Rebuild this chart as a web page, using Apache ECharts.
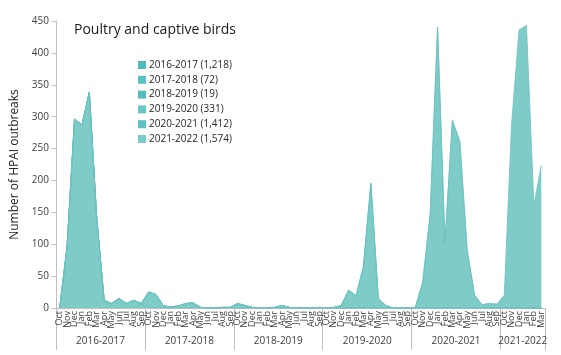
<!DOCTYPE html>
<html><head><meta charset="utf-8">
<script src="https://cdn.jsdelivr.net/npm/echarts@6/dist/echarts.min.js"></script>
<style>html,body{margin:0;padding:0;background:#fff}#c{width:561px;height:355px}</style>
</head><body><div id="c"></div>
<script>
var months = ['Oct','Nov','Dec','Jan','Feb','Mar','Apr','May','Jun','Jul','Aug','Sep'];
var seasons = ['2016-2017','2017-2018','2018-2019','2019-2020','2020-2021','2021-2022'];
var seasonTotals = ['1,218','72','19','331','1,412','1,574'];
var s1617 = [0, 97, 296, 287, 338, 140, 12, 7, 15, 7, 12, 7];
var s1718 = [25, 21, 3, 2, 3, 7, 8, 1, 0, 0, 1, 1];
var s1819 = [7, 4, 1, 0, 0, 1, 4, 1, 0, 0, 0, 1];
var s1920 = [0, 1, 4, 28, 19, 65, 195, 15, 4, 0, 0, 0];
var s2021 = [1, 41, 146, 440, 102, 294, 261, 90, 20, 5, 7, 6];
var s2122 = [20, 290, 436, 443, 161, 224];
var seasonData = [s1617, s1718, s1819, s1920, s2021, s2122];
var legendColors = ['#4fbcbb','#5cc2c0','#56bdbc','#68c6c4','#5ec0bf','#7acdcb'];

var categories = [];
seasonData.forEach(function(arr){ arr.forEach(function(v,i){ categories.push(months[i]); }); });
var N = categories.length;
var starts = []; var acc = 0;
seasonData.forEach(function(arr){ starts.push(acc); acc += arr.length; });

var series = seasonData.map(function(arr, k){
  var d = new Array(N).fill(0);
  arr.forEach(function(v,i){ d[starts[k]+i] = v; });
  return {
    name: seasons[k] + ' (' + seasonTotals[k] + ')',
    type: 'line', stack: 'all', data: d, symbol: 'none',
    color: legendColors[k],
    lineStyle: {width: 0.8, color: '#6ac3c0'},
    areaStyle: {color: '#7ecbc8', opacity: 1},
    itemStyle: {color: legendColors[k]}
  };
});

var tickVals = starts.concat([N]);
var labelVals = seasonData.map(function(arr,k){ return starts[k] + arr.length/2; });

var chart = echarts.init(document.getElementById('c'), null, {renderer:'canvas'});
chart.setOption({
  animation: false,
  title: {text: 'Poultry and captive birds', left: 69, top: 18,
    textStyle: {fontFamily: 'Open Sans', fontSize: 14, fontWeight: 'normal', color: '#1a1a1a'}},
  legend: {orient: 'vertical', left: 133, top: 55, itemWidth: 8, itemHeight: 8, itemGap: 4.8,
    icon: 'rect',
    textStyle: {fontFamily: 'Open Sans', fontSize: 10, color: '#262626', padding: [0,0,0,-2]}},
  grid: {left: 56, right: 16, top: 21, bottom: 47},
  xAxis: [{
    type: 'category', data: categories, boundaryGap: true,
    axisLine: {lineStyle: {color: '#bfbfbf'}},
    axisTick: {show: false},
    axisLabel: {rotate: 90, interval: 0, fontFamily: 'Open Sans', fontSize: 9, color: '#404040', margin: 3}
  },{
    type: 'value', min: 0, max: N, position: 'bottom',
    axisLine: {show: false}, splitLine: {show: false},
    axisTick: {show: true, customValues: tickVals, length: 42, lineStyle: {color: '#bfbfbf'}},
    axisLabel: {customValues: labelVals, margin: 28, fontFamily: 'Open Sans', fontSize: 10, color: '#404040',
      formatter: function(v){ var i = labelVals.indexOf(v); return i >= 0 ? seasons[i] : ''; }}
  }],
  yAxis: {
    type: 'value', min: 0, max: 450, interval: 50,
    name: 'Number of HPAI outbreaks', nameLocation: 'middle', nameGap: 31,
    nameTextStyle: {fontFamily: 'Open Sans', fontSize: 12, color: '#262626'},
    axisLine: {show: true, lineStyle: {color: '#bfbfbf'}},
    axisTick: {show: true, length: 4, lineStyle: {color: '#bfbfbf'}},
    splitLine: {show: false},
    axisLabel: {fontFamily: 'Open Sans', fontSize: 10, color: '#404040', margin: 7}
  },
  series: series
});
</script></body></html>
